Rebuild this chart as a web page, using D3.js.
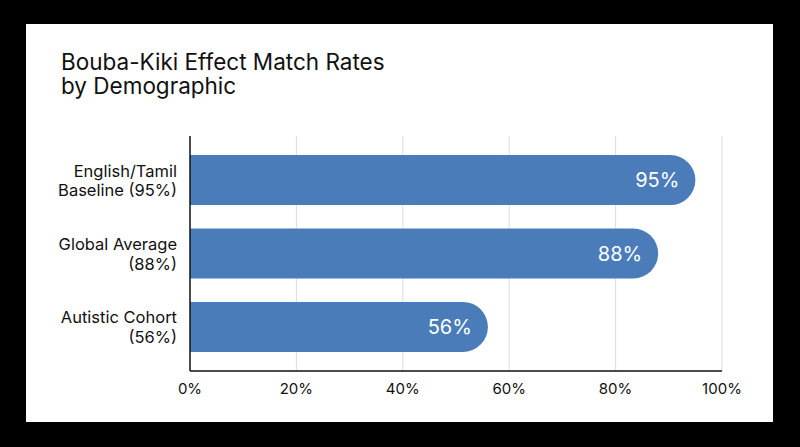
<!DOCTYPE html>
<html>
<head>
<meta charset="utf-8">
<script src="https://cdn.jsdelivr.net/npm/d3@7"></script>
<style>
  html, body { margin: 0; padding: 0; background: #000; }
  svg { display: block; font-family: Inter, "Noto Sans", sans-serif; }
</style>
</head>
<body>
<svg id="chart" width="800" height="447"></svg>
<script>
'use strict';

const categories = [
    ['English/Tamil', 'Baseline (95%)'],
    ['Global Average', '(88%)'],
    ['Autistic Cohort', '(56%)']
];
const values = [95, 88, 56];
const ticks = [0, 20, 40, 60, 80, 100];
const titleLines = ['Bouba-Kiki Effect Match Rates', 'by Demographic'];

const svg = d3.select('#chart');
const margin = {top: 136, right: 78, bottom: 76, left: 190};
const width = 800 - margin.left - margin.right;
const height = 447 - margin.top - margin.bottom;
const barColor = '#4a7cba';

// white card
svg.append('rect')
    .attr('x', 26).attr('y', 24)
    .attr('width', 747).attr('height', 398)
    .attr('fill', '#fff');

svg.append('text')
    .attr('x', 61)
    .attr('y', 70)
    .attr('font-size', 22.5)
    .attr('font-weight', 400)
    .attr('fill', '#111')
    .selectAll('tspan')
    .data(titleLines)
    .join('tspan')
    .attr('x', 61)
    .attr('dy', (d, i) => i ? 23.5 : 0)
    .text(d => d);

const g = svg.append('g').attr('transform', 'translate(' + margin.left + ',' + margin.top + ')');

const x = d3.scaleLinear().domain([0, 100]).range([0, width]);
const y = d3.scaleBand()
    .domain(d3.range(values.length))
    .range([0, height])
    .paddingInner(0.32)
    .paddingOuter(0.26);

// grid
g.selectAll('.grid')
    .data(ticks.slice(1))
    .join('line')
    .attr('class', 'grid')
    .attr('x1', d => x(d)).attr('x2', d => x(d))
    .attr('y1', 0).attr('y2', height)
    .attr('stroke', '#dcdcdc')
    .attr('stroke-width', 1);

// bars: square left, fully rounded right end
let r = y.bandwidth() / 2;
g.selectAll('.bar')
    .data(values)
    .join('path')
    .attr('class', 'bar')
    .attr('fill', barColor)
    .attr('d', function (d, i) {
        let x1 = x(d), y0 = y(i), h = y.bandwidth();
        return 'M0,' + y0 + 'H' + (x1 - r) +
            'A' + r + ',' + r + ' 0 0 1 ' + (x1 - r) + ',' + (y0 + h) +
            'H0Z';
    });

g.selectAll('.val')
    .data(values)
    .join('text')
    .attr('class', 'val')
    .attr('x', d => x(d) - 16)
    .attr('y', (d, i) => y(i) + y.bandwidth() / 2)
    .attr('dy', '0.36em')
    .attr('text-anchor', 'end')
    .attr('font-size', 20)
    .attr('fill', '#fff')
    .text(d => d + '%');

// category labels
g.selectAll('.cat')
    .data(categories)
    .join('text')
    .attr('class', 'cat')
    .attr('text-anchor', 'end')
    .attr('font-size', 16.5)
    .attr('fill', '#111')
    .each(function (d, i) {
        let cy = y(i) + y.bandwidth() / 2;
        d3.select(this).selectAll('tspan')
            .data(d)
            .join('tspan')
            .attr('x', -13)
            .attr('y', (t, j) => cy - 3.5 + j * 19.5)
            .text(t => t);
    });

// axes
g.append('line')
    .attr('x1', 0).attr('x2', 0)
    .attr('y1', 0).attr('y2', height)
    .attr('stroke', '#111').attr('stroke-width', 1.5);

g.append('line')
    .attr('x1', 0).attr('x2', width)
    .attr('y1', height).attr('y2', height)
    .attr('stroke', '#111').attr('stroke-width', 1.5);

g.selectAll('.tick-label')
    .data(ticks)
    .join('text')
    .attr('class', 'tick-label')
    .attr('x', d => x(d))
    .attr('y', height + 22.5)
    .attr('text-anchor', 'middle')
    .attr('font-size', 15)
    .attr('fill', '#111')
    .text(d => d + '%');
</script>
</body>
</html>
